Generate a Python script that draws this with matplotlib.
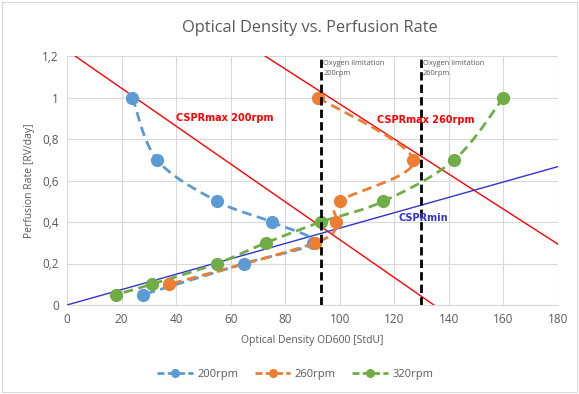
import numpy as np
import matplotlib
matplotlib.use("Agg")
import matplotlib.pyplot as plt
from matplotlib.lines import Line2D
from matplotlib.patches import Rectangle

plt.rcParams['font.family'] = ['Open Sans', 'DejaVu Sans']

# Data (optical density, perfusion rate) in plotting order
od_200 = [24, 33, 55, 75, 90, 65, 28]
pr_200 = [1.0, 0.7, 0.5, 0.4, 0.3, 0.2, 0.05]
od_260 = [92, 127, 100, 98.5, 91, 37.5]
pr_260 = [1.0, 0.7, 0.5, 0.4, 0.3, 0.1]
od_320 = [160, 142, 116, 93, 73, 55, 31, 18]
pr_320 = [1.0, 0.7, 0.5, 0.4, 0.3, 0.2, 0.1, 0.05]

series_names = ["200rpm", "260rpm", "320rpm"]
colors = ["#5B9BD5", "#ED7D31", "#70AD47"]

# Reference lines (x endpoints, y endpoints)
cspr200_x = [0, 134.5]
cspr200_y = [1.227, 0.0]
cspr260_x = [72.6, 180]
cspr260_y = [1.2, 0.293]
csprmin_x = [0, 180]
csprmin_y = [0, 0.667]
oxygen_x = [93.2, 129.6]
oxygen_labels = ["Oxygen limitation\n200rpm", "Oxygen limitation\n260rpm"]

x_ticks = [0, 20, 40, 60, 80, 100, 120, 140, 160, 180]
y_ticks = [0, 0.2, 0.4, 0.6, 0.8, 1.0, 1.2]
y_ticklabels = ["0", "0,2", "0,4", "0,6", "0,8", "1", "1,2"]


def smooth(xs, ys, n=30):
    p = np.column_stack([xs, ys]).astype(float)
    out = [p[0]]
    m = len(p)
    for i in range(m - 1):
        p0 = p[i - 1] if i > 0 else p[i]
        p1 = p[i]
        p2 = p[i + 1]
        p3 = p[i + 2] if i + 2 < m else p[i + 1]
        c1 = p1 + (p2 - p0) / 6.0
        c2 = p2 - (p3 - p1) / 6.0
        t = np.linspace(0, 1, n)[1:, None]
        seg = ((1 - t) ** 3) * p1 + 3 * ((1 - t) ** 2) * t * c1 + 3 * (1 - t) * t ** 2 * c2 + t ** 3 * p2
        out.extend(seg)
    out = np.array(out)
    return out[:, 0], out[:, 1]


fig = plt.figure(figsize=(5.79, 3.94), dpi=100)
ax = fig.add_axes([67 / 579, 1 - 305 / 394, (558 - 67) / 579, (305 - 56) / 394])

ax.set_xlim(0, 180)
ax.set_ylim(0, 1.2)
ax.set_xticks(x_ticks)
ax.set_yticks(y_ticks)
ax.set_yticklabels(y_ticklabels)
ax.grid(True, color="#D9D9D9", linewidth=0.8)
ax.set_axisbelow(True)
for s in ax.spines.values():
    s.set_visible(False)
ax.spines['bottom'].set_visible(True)
ax.spines['bottom'].set_color("#D9D9D9")
ax.tick_params(length=0, colors="#595959", labelsize=8.5, pad=6)

# reference lines
ax.plot(cspr200_x, cspr200_y, color="#FF0000", lw=1.0, zorder=2)
ax.plot(cspr260_x, cspr260_y, color="#FF0000", lw=1.0, zorder=2)
ax.plot(csprmin_x, csprmin_y, color="#3333CC", lw=1.0, zorder=2)

# series
for xs, ys, c in [(od_200, pr_200, colors[0]), (od_260, pr_260, colors[1]), (od_320, pr_320, colors[2])]:
    sx, sy = smooth(xs, ys)
    ax.plot(sx, sy, color=c, lw=2.0, ls=(0, (3.5, 2)), zorder=3)
    ax.plot(xs, ys, ls="none", marker="o", ms=8.5, color=c, zorder=4)

# oxygen limitation lines
for xv, lab in zip(oxygen_x, oxygen_labels):
    ax.axvline(xv, color="black", lw=2.0, ls=(0, (3, 1.5)), zorder=5)
    ax.text(xv + 0.8, 1.18, lab, fontsize=5.4, color="#595959", va="top", ha="left", linespacing=1.5, zorder=6)

bold_kw = dict(fontsize=7.0, fontweight="bold", va="center", ha="left", zorder=6, family=["DejaVu Sans"])
ax.text(40, 0.9, "CSPRmax 200rpm", color="#FF0000", **bold_kw)
ax.text(113.5, 0.89, "CSPRmax 260rpm", color="#FF0000", **bold_kw)
ax.text(121.5, 0.42, "CSPRmin", color="#3333CC", **bold_kw)

ax.set_xlabel("Optical Density OD600 [StdU]", color="#595959", fontsize=7.5, labelpad=6)
ax.set_ylabel("Perfusion Rate [RV/day]", color="#595959", fontsize=7.5, labelpad=5)

fig.suptitle("Optical Density vs. Perfusion Rate", y=1 - 28 / 394, va="center", fontsize=11.8, color="#595959", x=310 / 579)

handles = [Line2D([0], [0], color=c, lw=2.0, ls=(0, (2.5, 1.2)), marker="o", ms=5.5) for c in colors]
fig.legend(handles, series_names, loc="center", bbox_to_anchor=(0.51, 1 - 374 / 394), ncol=3, frameon=False,
           fontsize=8, labelcolor="#595959", handlelength=3.2, columnspacing=1.5, handletextpad=0.4)

fig.patches.append(Rectangle((0.004, 0.004), 0.992, 0.992, transform=fig.transFigure, fill=False,
                             edgecolor="#D9D9D9", lw=0.8))

fig.savefig("out.png", dpi=100)
